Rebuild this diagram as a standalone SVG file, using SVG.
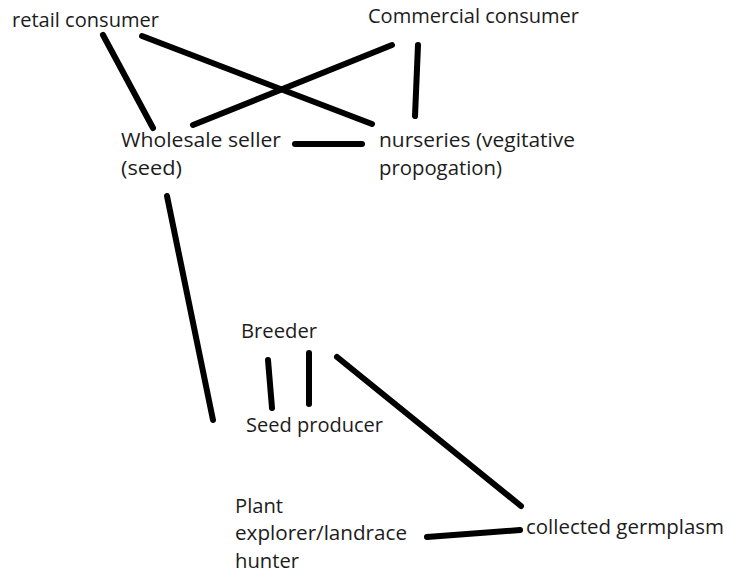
<svg xmlns="http://www.w3.org/2000/svg" width="730" height="573" viewBox="0 0 730 573">
<style>
text{font-family:"Open Sans","Liberation Sans",sans-serif;font-size:20px;fill:#1c1c1c}
.c line{stroke:#000;stroke-width:6;stroke-linecap:round}
</style>
<rect width="730" height="573" fill="#fff"/>
<g class="c" id="connectors">
<line x1="103" y1="35" x2="153" y2="128"/>
<line x1="142" y1="36" x2="372" y2="124"/>
<line x1="193" y1="125" x2="392" y2="45"/>
<line x1="418" y1="45" x2="415" y2="116"/>
<line x1="295" y1="144" x2="362" y2="144"/>
<line x1="167" y1="196" x2="213" y2="420"/>
<line x1="268" y1="360" x2="272" y2="408"/>
<line x1="309" y1="353" x2="309" y2="404"/>
<line x1="337" y1="357" x2="521" y2="506"/>
<line x1="427" y1="537" x2="520" y2="530"/>
</g>
<g id="retail"><text x="12" y="27" textLength="147" lengthAdjust="spacingAndGlyphs">retail consumer</text></g>
<g id="commercial"><text x="368" y="23" textLength="211" lengthAdjust="spacingAndGlyphs">Commercial consumer</text></g>
<g id="wholesale"><text x="121" y="147" textLength="160" lengthAdjust="spacingAndGlyphs">Wholesale seller</text><text x="121" y="175" textLength="61" lengthAdjust="spacingAndGlyphs">(seed)</text></g>
<g id="nurseries"><text x="379" y="147" textLength="196" lengthAdjust="spacingAndGlyphs">nurseries (vegitative</text><text x="379" y="175" textLength="123" lengthAdjust="spacingAndGlyphs">propogation)</text></g>
<g id="breeder"><text x="241" y="338" textLength="76" lengthAdjust="spacingAndGlyphs">Breeder</text></g>
<g id="seedproducer"><text x="246" y="432" textLength="137" lengthAdjust="spacingAndGlyphs">Seed producer</text></g>
<g id="explorer"><text x="235" y="513" textLength="48" lengthAdjust="spacingAndGlyphs">Plant</text><text x="235" y="540" textLength="172" lengthAdjust="spacingAndGlyphs">explorer/landrace</text><text x="235" y="568" textLength="64" lengthAdjust="spacingAndGlyphs">hunter</text></g>
<g id="germplasm"><text x="526" y="534" textLength="198" lengthAdjust="spacingAndGlyphs">collected germplasm</text></g>
</svg>
